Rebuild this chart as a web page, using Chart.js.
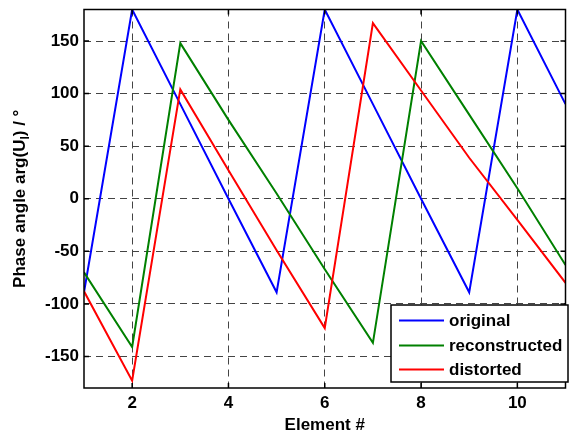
<!DOCTYPE html>
<html>
<head>
<meta charset="utf-8">
<script src="https://cdn.jsdelivr.net/npm/chart.js@4.4.0/dist/chart.umd.min.js"></script>
<style>
  html, body { margin: 0; padding: 0; background: #fff; }
  #wrap { width: 570px; height: 436px; }
</style>
</head>
<body>
<div id="wrap"><canvas id="phase-chart" width="570" height="436"></canvas></div>
<script>
const elements = [1, 2, 3, 4, 5, 6, 7, 8, 9, 10, 11];
const original = [-89, 180, 90, 0, -89, 180, 90, 0, -89, 180, 90];
const reconstructed = [-70, -141, 148, 75, 5, -67, -137, 150, 80, 10, -63];
const distorted = [-88, -173, 104, 27, -49, -123, 167, 103, 39, -20, -80];
const xTicks = [2, 4, 6, 8, 10];
const yTicks = [-150, -100, -50, 0, 50, 100, 150];
const seriesNames = ['original', 'reconstructed', 'distorted'];
const seriesColors = ['#0000ff', '#008000', '#ff0000'];

const FONT = '"Liberation Sans", Arial, sans-serif';
Chart.defaults.font.family = FONT;
Chart.defaults.font.size = 17;
Chart.defaults.font.weight = 'bold';
Chart.defaults.color = '#000';

function toPoints(values) {
  return values.map((v, i) => ({ x: elements[i], y: v }));
}

// frame, inward ticks, titles and legend drawn MATLAB-style
const axesDecor = {
  id: 'axesDecor',
  afterDraw(chart) {
    const ctx = chart.ctx;
    const { left, right, top, bottom } = chart.chartArea;
    const xs = chart.scales.x, ys = chart.scales.y;
    ctx.save();
    ctx.strokeStyle = '#000';
    ctx.lineWidth = 1.5;
    ctx.strokeRect(left, top, right - left, bottom - top);
    ctx.beginPath();
    const tl = 5;
    xTicks.forEach(v => {
      const px = xs.getPixelForValue(v);
      ctx.moveTo(px, bottom); ctx.lineTo(px, bottom - tl);
      ctx.moveTo(px, top); ctx.lineTo(px, top + tl);
    });
    yTicks.forEach(v => {
      const py = ys.getPixelForValue(v);
      ctx.moveTo(left, py); ctx.lineTo(left + tl, py);
      ctx.moveTo(right, py); ctx.lineTo(right - tl, py);
    });
    ctx.stroke();

    // x title
    ctx.fillStyle = '#000';
    ctx.font = 'bold 17px ' + FONT;
    ctx.textAlign = 'center';
    ctx.textBaseline = 'alphabetic';
    ctx.fillText('Element #', (left + right) / 2, 430);

    // y title with subscript
    const parts = [['Phase angle arg(U', 17, 0], ['l', 12, 4], [') / \u00b0', 17, 0]];
    let total = 0;
    parts.forEach(p => { ctx.font = 'bold ' + p[1] + 'px ' + FONT; total += ctx.measureText(p[0]).width; });
    ctx.translate(25, (top + bottom) / 2);
    ctx.rotate(-Math.PI / 2);
    ctx.textAlign = 'left';
    let cx = -total / 2;
    parts.forEach(p => {
      ctx.font = 'bold ' + p[1] + 'px ' + FONT;
      ctx.fillText(p[0], cx, p[2]);
      cx += ctx.measureText(p[0]).width;
    });
    ctx.setTransform(1, 0, 0, 1, 0, 0);

    // legend
    const lx = 391, ly = 305, lw = 177, lh = 77;
    ctx.fillStyle = '#fff';
    ctx.fillRect(lx, ly, lw, lh);
    ctx.strokeStyle = '#000';
    ctx.lineWidth = 1.5;
    ctx.strokeRect(lx, ly, lw, lh);
    ctx.font = 'bold 17px ' + FONT;
    ctx.textAlign = 'left';
    ctx.textBaseline = 'middle';
    const rows = [320.5, 345.5, 369.5];
    seriesNames.forEach((name, i) => {
      ctx.strokeStyle = seriesColors[i];
      ctx.lineWidth = 2;
      ctx.beginPath();
      ctx.moveTo(399, rows[i]); ctx.lineTo(444, rows[i]);
      ctx.stroke();
      ctx.fillStyle = '#000';
      ctx.fillText(name, 449, rows[i] + 1);
    });
    ctx.restore();
  }
};

const seriesData = [original, reconstructed, distorted];
const ctx = document.getElementById('phase-chart').getContext('2d');
new Chart(ctx, {
  type: 'line',
  data: {
    datasets: seriesNames.map((name, i) => ({
      label: name,
      data: toPoints(seriesData[i]),
      borderColor: seriesColors[i],
      backgroundColor: seriesColors[i],
      borderWidth: 2,
      pointRadius: 0,
      tension: 0,
      fill: false,
      order: 2 - i
    }))
  },
  options: {
    responsive: false,
    animation: false,
    events: [],
    layout: { padding: { top: 9.5, right: 4.5, left: 0, bottom: 0 } },
    plugins: { legend: { display: false }, tooltip: { enabled: false } },
    scales: {
      x: {
        type: 'linear',
        min: 1,
        max: 11,
        afterBuildTicks: s => { s.ticks = xTicks.map(v => ({ value: v })); },
        afterFit: s => { s.height = 48; s.paddingLeft = 0; s.paddingRight = 0; },
        grid: { color: '#444', lineWidth: 1, drawTicks: false },
        border: { display: false, dash: [7, 5] },
        ticks: { padding: 5, color: '#000', font: { size: 17, weight: 'bold' } }
      },
      y: {
        type: 'linear',
        min: -180,
        max: 180,
        afterBuildTicks: s => { s.ticks = yTicks.map(v => ({ value: v })); },
        afterFit: s => { s.width = 84; s.paddingTop = 0; s.paddingBottom = 0; },
        grid: { color: '#444', lineWidth: 1, drawTicks: false },
        border: { display: false, dash: [7, 5] },
        ticks: { padding: 5, color: '#000', font: { size: 17, weight: 'bold' } }
      }
    }
  },
  plugins: [axesDecor]
});
</script>
</body>
</html>
